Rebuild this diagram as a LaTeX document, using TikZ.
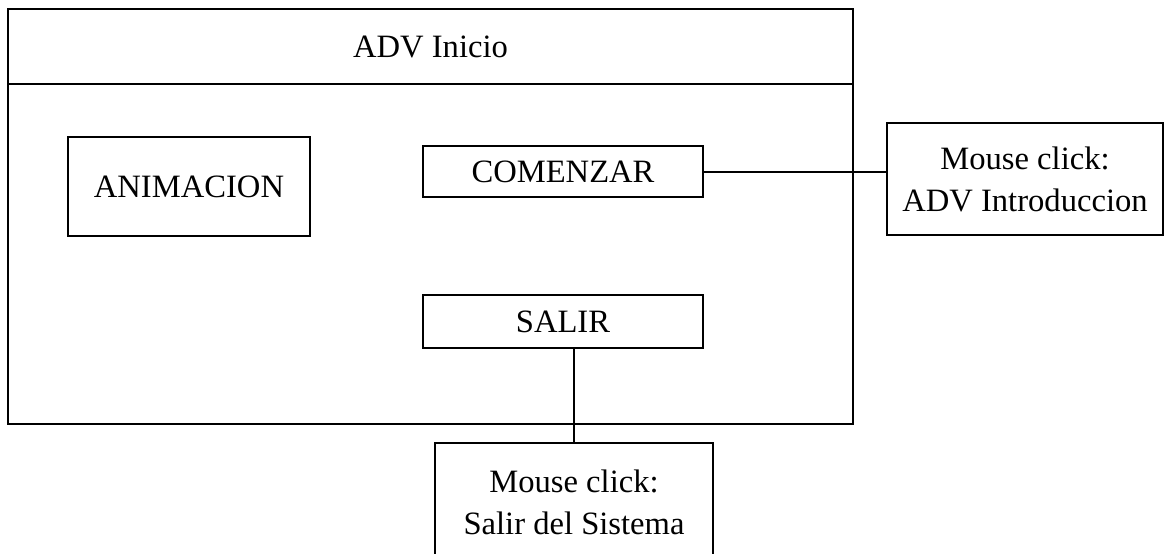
\documentclass[tikz,border=0pt]{standalone}
\usepackage{fontspec}
\setmainfont{Liberation Serif}
\usepackage{tikz}
\usetikzlibrary{positioning, calc}

\tikzset{
    caja/.style={draw, line width=1pt, inner sep=0pt, align=center,
        font=\fontsize{16.3}{21}\selectfont},
    enlace/.style={line width=1pt}
}

\begin{document}
\begin{tikzpicture}[x=0.5pt, y=-0.5pt]
        \useasboundingbox (0,0) rectangle (1164,553);

        % Pantalla ADV Inicio
        \node[caja, minimum width=422.5pt, minimum height=37.5pt] (cabecera) at (430.5, 46.5) {ADV Inicio};
        \node[caja, minimum width=422.5pt, minimum height=170pt] (cuerpo) at (430.5, 254) {};

        % Elementos de la pantalla
        \node[caja, minimum width=121pt, minimum height=49.5pt] (animacion) at (189, 186.5) {ANIMACION};
        \node[caja, minimum width=140pt, minimum height=25.5pt] (comenzar) at (563, 171.5) {COMENZAR};
        \node[caja, minimum width=140pt, minimum height=26.5pt] (salir) at (563, 321.5) {SALIR};

        % Eventos
        \node[caja, minimum width=138pt, minimum height=56pt] (clicintro) at (1025, 179) {Mouse click:\\ADV Introduccion};
        \node[caja, minimum width=139pt, minimum height=59pt] (clicsalir) at (574, 502) {Mouse click:\\Salir del Sistema};

        % Conectores
        \draw[enlace] (comenzar.east) -- (comenzar.east -| clicintro.west);
        \draw[enlace] (clicsalir.north |- salir.south) -- (clicsalir.north);
    \end{tikzpicture}
\end{document}
